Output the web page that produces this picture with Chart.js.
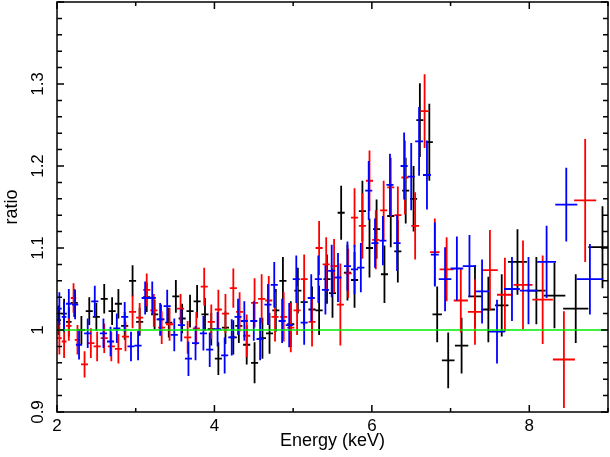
<!DOCTYPE html>
<html>
<head>
<meta charset="utf-8">
<script src="https://cdn.jsdelivr.net/npm/chart.js@4.4.0/dist/chart.umd.min.js"></script>
<style>
html, body { margin: 0; padding: 0; background: #fff; }
#wrap { width: 610px; height: 457px; }
</style>
</head>
<body>
<div id="wrap"><canvas id="myChart"></canvas></div>
<script>
// tick labels
var xTicks = [2, 4, 6, 8];
var yTicks = [0.9, 1, 1.1, 1.2, 1.3];

// black spectrum: energy, half bin width, ratio, error
var blackE  = [2.02,2.09,2.15,2.22,2.31,2.41,2.50,2.60,2.70,2.78,2.86,2.96,3.05,3.14,3.24,3.32,3.42,3.51,3.59,3.69,3.78,3.88,3.96,4.05,4.14,4.24,4.31,4.41,4.51,4.61,4.70,4.78,4.87,4.97,5.06,5.14,5.24,5.33,5.43,5.50,5.61,5.69,5.78,5.88,5.97,6.06,6.16,6.24,6.33,6.43,6.53,6.61,6.73,6.83,6.97,7.14,7.31,7.48,7.65,7.85,8.09,8.32,8.59,8.93];
var blackDE = [0.03,0.035,0.035,0.045,0.045,0.045,0.045,0.045,0.045,0.045,0.045,0.045,0.045,0.045,0.045,0.045,0.045,0.045,0.045,0.045,0.045,0.045,0.045,0.045,0.045,0.045,0.045,0.045,0.045,0.045,0.045,0.045,0.045,0.045,0.045,0.045,0.045,0.045,0.045,0.045,0.045,0.045,0.045,0.045,0.045,0.045,0.045,0.045,0.045,0.045,0.045,0.045,0.045,0.06,0.08,0.085,0.085,0.085,0.085,0.12,0.116,0.138,0.16,0.18];
var blackR  = [1.012,1.020,1.010,1.033,1.000,1.023,1.016,1.038,1.023,1.032,1.005,1.060,1.010,1.040,1.019,1.013,1.009,1.041,1.014,1.023,1.035,1.019,1.001,0.965,1.003,0.991,1.005,0.982,0.960,0.990,0.996,1.024,1.060,1.007,1.048,1.034,1.025,1.024,1.062,1.045,1.143,1.070,1.061,1.145,1.100,1.123,1.068,1.139,1.096,1.170,1.160,1.256,1.229,1.019,0.963,0.981,1.041,1.025,1.030,1.083,1.048,1.042,1.026,1.101];
var blackDR = [0.018,0.018,0.018,0.017,0.017,0.017,0.017,0.018,0.017,0.018,0.017,0.019,0.017,0.018,0.018,0.018,0.018,0.02,0.018,0.02,0.02,0.02,0.02,0.02,0.02,0.021,0.021,0.024,0.025,0.025,0.025,0.026,0.029,0.028,0.028,0.028,0.028,0.03,0.03,0.03,0.033,0.034,0.034,0.037,0.036,0.036,0.035,0.038,0.038,0.04,0.04,0.045,0.047,0.034,0.034,0.034,0.038,0.04,0.038,0.04,0.041,0.04,0.042,0.05];

// red spectrum
var redE  = [2.03,2.09,2.15,2.21,2.26,2.35,2.43,2.51,2.60,2.69,2.78,2.87,2.96,3.05,3.14,3.23,3.33,3.43,3.57,3.66,3.77,3.87,3.96,4.05,4.14,4.24,4.32,4.41,4.51,4.60,4.69,4.77,4.88,4.97,5.05,5.14,5.24,5.33,5.42,5.52,5.60,5.70,5.78,5.88,5.97,6.05,6.15,6.24,6.33,6.42,6.55,6.67,6.80,6.95,7.13,7.31,7.50,7.69,7.92,8.17,8.44,8.71];
var redDE = [0.03,0.03,0.035,0.035,0.035,0.045,0.045,0.045,0.045,0.045,0.045,0.045,0.045,0.045,0.045,0.045,0.045,0.045,0.045,0.045,0.045,0.045,0.045,0.045,0.045,0.045,0.045,0.045,0.045,0.045,0.045,0.045,0.045,0.045,0.045,0.045,0.045,0.045,0.045,0.045,0.045,0.045,0.045,0.045,0.045,0.045,0.045,0.045,0.045,0.045,0.05,0.05,0.06,0.09,0.09,0.09,0.1,0.1,0.12,0.13,0.14,0.14];
var redR  = [0.990,0.986,1.005,1.039,0.988,0.958,0.984,0.980,0.990,0.980,0.977,0.992,1.022,1.015,1.049,1.024,1.003,1.007,1.026,0.991,1.002,1.053,1.010,1.025,1.020,1.051,1.022,0.993,1.033,1.038,1.036,1.016,1.016,1.003,1.024,1.062,1.010,1.100,1.080,1.078,1.031,1.069,1.137,1.127,1.182,1.110,1.146,1.174,1.140,1.186,1.127,1.267,1.095,1.074,1.036,1.022,1.073,1.043,1.055,1.037,0.964,1.158];
var redDR = [0.02,0.02,0.018,0.018,0.018,0.016,0.018,0.018,0.018,0.018,0.018,0.018,0.02,0.018,0.02,0.02,0.02,0.02,0.018,0.02,0.02,0.023,0.021,0.024,0.024,0.024,0.024,0.026,0.03,0.03,0.03,0.03,0.03,0.03,0.03,0.03,0.03,0.033,0.033,0.033,0.05,0.03,0.036,0.04,0.037,0.036,0.036,0.036,0.035,0.045,0.041,0.045,0.041,0.039,0.039,0.04,0.049,0.045,0.054,0.054,0.059,0.075];

// blue spectrum
var blueE  = [2.03,2.09,2.15,2.23,2.28,2.39,2.48,2.59,2.68,2.76,2.86,2.94,3.03,3.12,3.21,3.31,3.40,3.49,3.58,3.67,3.76,3.86,3.94,4.04,4.13,4.22,4.30,4.38,4.50,4.58,4.68,4.76,4.86,4.95,5.04,5.14,5.23,5.32,5.41,5.49,5.57,5.69,5.78,5.86,5.96,6.04,6.14,6.23,6.32,6.41,6.50,6.60,6.70,6.80,6.93,7.08,7.24,7.40,7.59,7.78,7.99,8.22,8.47,8.77];
var blueDE = [0.03,0.03,0.035,0.04,0.04,0.045,0.045,0.045,0.045,0.045,0.045,0.045,0.045,0.045,0.045,0.045,0.045,0.045,0.045,0.045,0.045,0.045,0.045,0.045,0.045,0.045,0.045,0.045,0.045,0.045,0.045,0.045,0.045,0.045,0.045,0.045,0.045,0.045,0.045,0.045,0.045,0.045,0.045,0.045,0.045,0.045,0.045,0.045,0.045,0.045,0.045,0.05,0.05,0.05,0.08,0.08,0.085,0.09,0.1,0.1,0.11,0.12,0.14,0.17];
var blueR  = [1.026,1.016,1.032,1.031,0.982,0.996,1.035,0.996,0.986,1.002,1.016,0.980,0.981,1.039,1.039,1.013,1.029,0.994,1.006,0.965,0.984,0.996,0.976,1.001,0.969,0.991,1.016,1.011,1.011,0.989,1.031,1.055,1.011,1.006,1.062,1.009,1.039,1.062,1.049,1.072,1.064,1.078,1.074,1.076,1.170,1.106,1.109,1.177,1.106,1.200,1.187,1.230,1.189,1.092,1.062,1.075,1.078,1.047,0.998,1.050,1.048,1.083,1.153,1.062];
var blueDR = [0.02,0.018,0.018,0.018,0.018,0.018,0.019,0.018,0.018,0.018,0.018,0.018,0.018,0.02,0.02,0.02,0.02,0.02,0.02,0.021,0.021,0.021,0.021,0.021,0.022,0.022,0.022,0.024,0.024,0.026,0.025,0.028,0.027,0.027,0.029,0.027,0.029,0.029,0.03,0.032,0.03,0.03,0.03,0.03,0.036,0.03,0.03,0.038,0.034,0.041,0.041,0.042,0.042,0.039,0.039,0.039,0.038,0.039,0.039,0.039,0.041,0.044,0.045,0.043];

// model line
var unityE = [2, 9];
var unityR = [1, 1];

function makePoints(e, de, r, dr) {
    return e.map(function (v, i) {
        return { x: v, y: r[i], xerr: de[i], yerr: dr[i] };
    });
}

var fontFamily = '"Liberation Sans", Arial, Helvetica, sans-serif';

// crosses drawn before the datasets so the green line sits on top
var errorBars = {
    id: 'errorBars',
    beforeDatasetsDraw: function (chart) {
        var ctx = chart.ctx, area = chart.chartArea;
        var xs = chart.scales.x, ys = chart.scales.y;
        ctx.save();
        ctx.beginPath();
        ctx.rect(area.left, area.top, area.right - area.left, area.bottom - area.top);
        ctx.clip();
        chart.data.datasets.forEach(function (ds) {
            if (!ds.errorBars) return;
            ctx.strokeStyle = ds.borderColor;
            ctx.lineWidth = 1.8;
            ctx.beginPath();
            ds.data.forEach(function (p) {
                var px = xs.getPixelForValue(p.x), py = ys.getPixelForValue(p.y);
                ctx.moveTo(xs.getPixelForValue(p.x - p.xerr), py);
                ctx.lineTo(xs.getPixelForValue(p.x + p.xerr), py);
                ctx.moveTo(px, ys.getPixelForValue(p.y - p.yerr));
                ctx.lineTo(px, ys.getPixelForValue(p.y + p.yerr));
            });
            ctx.stroke();
        });
        ctx.restore();
    }
};

// box with inward ticks on all four sides
var frame = {
    id: 'frame',
    afterDraw: function (chart) {
        var ctx = chart.ctx, a = chart.chartArea;
        var xs = chart.scales.x, ys = chart.scales.y;
        ctx.save();
        ctx.strokeStyle = '#000';
        ctx.lineWidth = 1.5;
        ctx.strokeRect(a.left, a.top, a.right - a.left, a.bottom - a.top);
        ctx.beginPath();
        var v, p, len;
        for (v = 2; v <= 9.001; v += 1) {
            p = xs.getPixelForValue(v);
            len = (Math.round(v) % 2 === 0) ? 7 : 4;
            ctx.moveTo(p, a.bottom); ctx.lineTo(p, a.bottom - len);
            ctx.moveTo(p, a.top); ctx.lineTo(p, a.top + len);
        }
        for (var k = 45; k <= 70; k++) {
            v = k / 50;
            p = ys.getPixelForValue(v);
            len = (k % 5 === 0) ? 7 : 5;
            ctx.moveTo(a.left, p); ctx.lineTo(a.left + len, p);
            ctx.moveTo(a.right, p); ctx.lineTo(a.right - len, p);
        }
        ctx.stroke();
        ctx.restore();
    }
};

var ctx = document.getElementById('myChart').getContext('2d');
var myChart = new Chart(ctx, {
    type: 'scatter',
    data: {
        datasets: [
            {
                label: 'black',
                data: makePoints(blackE, blackDE, blackR, blackDR),
                borderColor: '#000000',
                errorBars: true,
                pointRadius: 0,
                showLine: false
            },
            {
                label: 'red',
                data: makePoints(redE, redDE, redR, redDR),
                borderColor: '#ff0000',
                errorBars: true,
                pointRadius: 0,
                showLine: false
            },
            {
                label: 'blue',
                data: makePoints(blueE, blueDE, blueR, blueDR),
                borderColor: '#0000ff',
                errorBars: true,
                pointRadius: 0,
                showLine: false
            },
            {
                type: 'line',
                label: 'model',
                data: unityE.map(function (v, i) { return { x: v, y: unityR[i] }; }),
                borderColor: '#00ee00',
                borderWidth: 1.5,
                pointRadius: 0,
                fill: false
            }
        ]
    },
    options: {
        responsive: true,
        maintainAspectRatio: false,
        animation: false,
        layout: { padding: { top: 2, right: 2, left: 0, bottom: 0 } },
        plugins: {
            legend: { display: false },
            tooltip: { enabled: false }
        },
        scales: {
            x: {
                type: 'linear',
                min: 2,
                max: 9,
                afterBuildTicks: function (s) { s.ticks = xTicks.map(function (v) { return { value: v }; }); },
                afterFit: function (s) { s.height = 45; s.paddingLeft = 0; s.paddingRight = 0; },
                grid: { display: false, drawTicks: false },
                border: { display: false },
                ticks: {
                    color: '#000',
                    autoSkip: false,
                    maxRotation: 0,
                    padding: 4,
                    font: { family: fontFamily, size: 17 },
                    callback: function (v) { return String(v); }
                },
                title: {
                    display: true,
                    text: 'Energy (keV)',
                    color: '#000',
                    font: { family: fontFamily, size: 18 },
                    padding: { top: 0, bottom: 5 }
                }
            },
            y: {
                type: 'linear',
                min: 0.9,
                max: 1.4,
                afterBuildTicks: function (s) { s.ticks = yTicks.map(function (v) { return { value: v }; }); },
                afterFit: function (s) { s.width = 57; s.paddingTop = 0; s.paddingBottom = 0; },
                grid: { display: false, drawTicks: false },
                border: { display: false },
                ticks: {
                    color: '#000',
                    autoSkip: false,
                    minRotation: 90,
                    maxRotation: 90,
                    crossAlign: 'center',
                    padding: 7,
                    font: { family: fontFamily, size: 17 },
                    callback: function (v) { return String(v); }
                },
                title: {
                    display: true,
                    text: 'ratio',
                    color: '#000',
                    font: { family: fontFamily, size: 18 },
                    padding: { top: 1, bottom: 0 }
                }
            }
        }
    },
    plugins: [errorBars, frame]
});
</script>
</body>
</html>
